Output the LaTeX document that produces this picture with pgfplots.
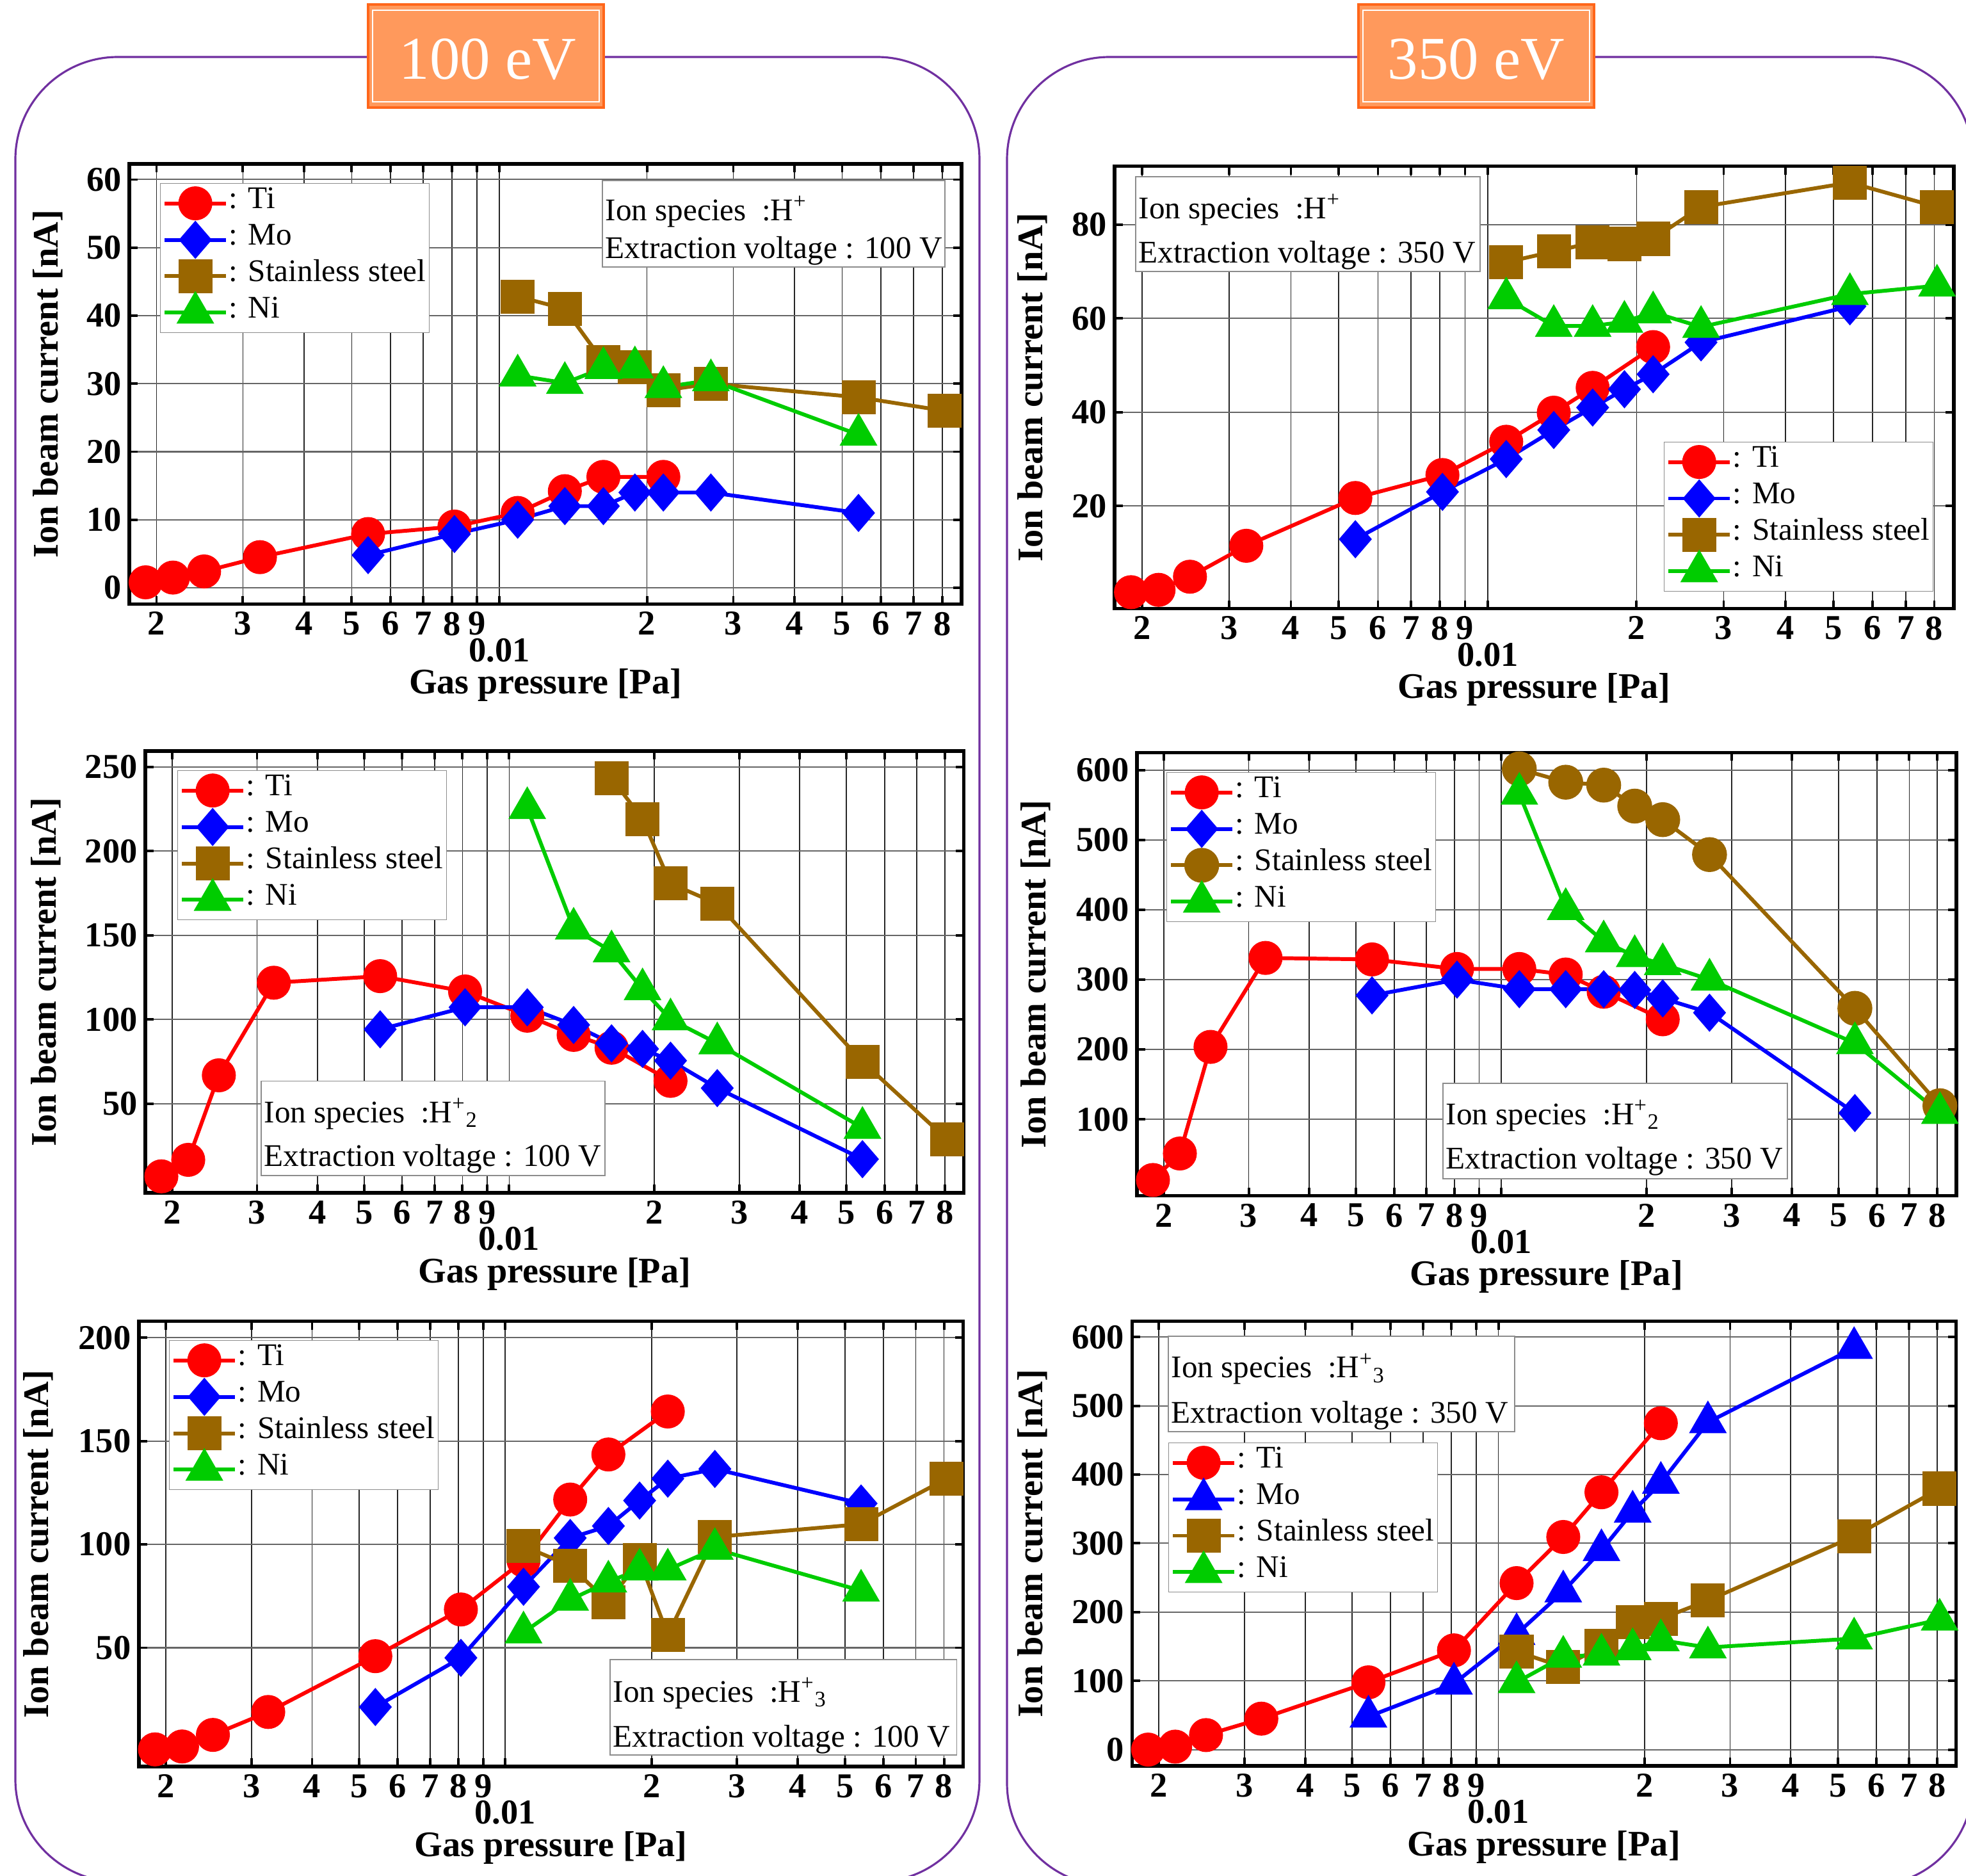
\documentclass[border=0pt]{standalone}
\usepackage{pgfplots}
\pgfplotsset{compat=1.18}
\usepackage{fontspec}
\setmainfont{Liberation Serif}
\usetikzlibrary{calc}
\definecolor{ssb}{RGB}{153,102,0}
\definecolor{nig}{RGB}{0,204,0}
\definecolor{frm}{RGB}{112,48,160}
\definecolor{orF}{RGB}{255,153,92}
\definecolor{orD}{RGB}{255,102,26}
\pgfplotsset{
  mypanel/.style={
    scale only axis, xmin=0.00176, xmax=0.0876, clip=false,
    xtick={0.002,0.003,0.004,0.005,0.006,0.007,0.008,0.009,0.01,0.02,0.03,0.04,0.05,0.06,0.07,0.08},
    xticklabels={2,3,4,5,6,7,8,9,{},2,3,4,5,6,7,8},
    xmajorgrids, ymajorgrids,
    x grid style={black!85, line width=0.5pt},
    y grid style={black!60, line width=0.6pt},
    tick align=inside, major tick length=0.13cm,
    tick style={black, line width=1.1pt},
    axis line style={line width=1.5pt},
    tick label style={font=\fontsize{15.5}{18}\selectfont\bfseries},
    yticklabel={\pgfmathprintnumber[assume math mode=true]{\tick}},
    xlabel={Gas pressure [Pa]}, ylabel={Ion beam current [nA]},
    xlabel style={at={(axis description cs:0.5,0)}, anchor=center, yshift=-1.265cm, font=\fontsize{16}{19}\selectfont\bfseries},
    ylabel style={anchor=center, font=\fontsize{16}{19}\selectfont\bfseries},
    legend cell align=left,
    legend style={anchor=north west, draw=black!45, fill=white, inner xsep=1pt, inner ysep=0.7pt,
      font=\fontsize{14}{16}\selectfont, row sep=0pt,
      nodes={inner xsep=0.5pt, inner ysep=3.2pt, text height=0.72em, text depth=0.26em}},
  },
  lgimg/.style={legend image code/.code={\draw[mark repeat=2,mark phase=2,##1] plot coordinates {(0cm,0cm) (0.48cm,0cm) (0.96cm,0cm)};}},
}
\tikzset{
  pTi/.style={red, line width=1.7pt, mark=*, mark size=6.7pt, mark options={solid}},
  pMo/.style={blue, line width=1.7pt, mark=diamond*, mark size=7.2pt, mark options={solid, xscale=1.15}},
  pMoT/.style={blue, line width=1.7pt, mark=triangle*, mark size=8pt, mark options={solid}},
  pSS/.style={ssb, line width=1.7pt, mark=square*, mark size=6.7pt, mark options={solid}},
  pSSc/.style={ssb, line width=1.7pt, mark=*, mark size=6.9pt, mark options={solid}},
  pNi/.style={nig, line width=1.7pt, mark=triangle*, mark size=8pt, mark options={solid}},
}
\newcommand{\annot}[6]{%
  \draw[black!45, fill=white, line width=0.5pt] (#1,#2) rectangle (#3,#4);
  \node[anchor=base west, inner sep=0pt, font=\fontsize{14}{16}\selectfont] at ($(#1,#5)+(0.04,0)$) {Ion species\ \ :H#6};
}
\newcommand{\ptlabel}{\node[font=\fontsize{15.5}{18}\selectfont\bfseries] at (axis description cs:0.4446,0) [yshift=-0.72cm] {0.01};}
\begin{document}
\begin{tikzpicture}
% frames
\begin{scope}
\clip (0,0) rectangle (30.71,-29.30);
\draw[frm, line width=0.9pt, rounded corners=1.6cm] (0.24,-0.89) rectangle (15.30,-29.39);
\draw[frm, line width=0.9pt, rounded corners=1.6cm] (15.73,-0.89) rectangle (30.82,-29.45);
\end{scope}
% titles
\filldraw[fill=orF, draw=orD, line width=0.9pt] (5.75,-0.07) rectangle (9.43,-1.68);
\draw[white, line width=0.6pt] (5.82,-0.16) rectangle (9.36,-1.59);
\node[anchor=base, text=white, inner sep=0pt, font=\fontsize{27}{30}\selectfont] at (7.62,-1.24) {100 eV};
\filldraw[fill=orF, draw=orD, line width=0.9pt] (21.22,-0.07) rectangle (24.90,-1.68);
\draw[white, line width=0.6pt] (21.29,-0.16) rectangle (24.83,-1.59);
\node[anchor=base, text=white, inner sep=0pt, font=\fontsize{27}{30}\selectfont] at (23.06,-1.24) {350 eV};

% ---------- TL
\begin{scope}[shift={(2.02,-9.435)}]
\begin{axis}[xmode=log, mypanel, lgimg, width=13.00cm, height=6.875cm,
  ymin=-2.4, ymax=62.3, ytick={0,10,...,60},
  ylabel style={at={(axis description cs:-0.0977,0.5)}},
  legend style={at={(axis description cs:0.0369,0.9564)}}]
\addplot[pTi] coordinates {(0.0019,0.8)(0.00216,1.5)(0.0025,2.4)(0.00325,4.5)(0.0054,7.9)(0.0081,9.0)(0.0109,11.0)(0.0136,14.2)(0.0163,16.3)(0.0216,16.3)};
\addplot[pMo] coordinates {(0.0054,4.8)(0.0081,7.9)(0.0109,10.0)(0.0136,12.0)(0.0163,12.0)(0.0189,14.0)(0.0216,14.0)(0.027,14.0)(0.054,11.0)};
\addplot[pSS] coordinates {(0.0109,42.8)(0.0136,41.0)(0.0163,33.2)(0.0189,32.4)(0.0216,29.0)(0.027,30.0)(0.054,28.0)(0.081,26.0)};
\addplot[pNi] coordinates {(0.0109,31.2)(0.0136,30.1)(0.0163,32.3)(0.0189,32.4)(0.0216,29.5)(0.027,30.5)(0.054,22.5)};
\legend{: Ti, : Mo, : Stainless steel, : Ni}
\ptlabel
\end{axis}
\end{scope}

% ---------- TR
\begin{scope}[shift={(17.41,-9.505)}]
\begin{axis}[xmode=log, mypanel, lgimg, width=13.11cm, height=6.91cm,
  ymin=-1.9, ymax=92.5, ytick={20,40,60,80},
  ylabel style={at={(axis description cs:-0.0976,0.5)}},
  legend style={at={(axis description cs:0.6545,0.3771)}}]
\addplot[pTi] coordinates {(0.0019,1.6)(0.00216,2.1)(0.0025,4.9)(0.00325,11.5)(0.0054,21.7)(0.0081,26.6)(0.0109,33.7)(0.0136,39.9)(0.0163,45.2)(0.0216,53.9)};
\addplot[pMo] coordinates {(0.0054,12.9)(0.0081,23.0)(0.0109,30.0)(0.0136,36.2)(0.0163,41.0)(0.0189,44.9)(0.0216,48.1)(0.027,54.9)(0.054,62.6)};
\addplot[pSS] coordinates {(0.0109,72.0)(0.0136,74.3)(0.0163,76.2)(0.0189,75.9)(0.0216,77.0)(0.027,83.8)(0.054,89.0)(0.081,83.8)};
\addplot[pNi] coordinates {(0.0109,64.3)(0.0136,58.4)(0.0163,58.4)(0.0189,59.3)(0.0216,61.3)(0.027,58.2)(0.054,65.2)(0.081,67.0)};
\legend{: Ti, : Mo, : Stainless steel, : Ni}
\ptlabel
\end{axis}
\end{scope}

% ---------- ML
\begin{scope}[shift={(2.27,-18.63)}]
\begin{axis}[xmode=log, mypanel, lgimg, width=12.785cm, height=6.90cm,
  ymin=-3, ymax=259.4, ytick={50,100,...,250},
  ylabel style={at={(axis description cs:-0.1212,0.5)}},
  legend style={at={(axis description cs:0.0391,0.9565)}}]
\addplot[pTi] coordinates {(0.0019,6.8)(0.00216,16.6)(0.0025,66.8)(0.00325,121.8)(0.0054,125.7)(0.0081,116.6)(0.0109,102.2)(0.0136,90.8)(0.0163,83.2)(0.0216,63.5)};
\addplot[pMo] coordinates {(0.0054,94.1)(0.0081,107.2)(0.0109,107.2)(0.0136,96.7)(0.0163,85.8)(0.0189,82.5)(0.0216,75.5)(0.027,59.2)(0.054,17.0)};
\addplot[pSS] coordinates {(0.0163,243.4)(0.0189,218.9)(0.0216,180.7)(0.027,168.7)(0.054,74.9)(0.081,28.6)};
\addplot[pNi] coordinates {(0.0109,225.5)(0.0136,153.9)(0.0163,140.4)(0.0189,117.9)(0.0216,100)(0.027,85.8)(0.054,35.6)};
\legend{: Ti, : Mo, : Stainless steel, : Ni}
\ptlabel
\end{axis}
\end{scope}

% ---------- MR
\begin{scope}[shift={(17.759,-18.676)}]
\begin{axis}[xmode=log, mypanel, lgimg, width=12.80cm, height=6.923cm,
  ymin=-9.4, ymax=625, ytick={100,200,...,600},
  ylabel style={at={(axis description cs:-0.1234,0.5)}},
  legend style={at={(axis description cs:0.036,0.9557)}}]
\addplot[pTi] coordinates {(0.0019,13.2)(0.00216,51.1)(0.0025,203.7)(0.00325,331)(0.0054,328.9)(0.0081,315.2)(0.0109,315.2)(0.0136,307.3)(0.0163,282.6)(0.0216,243.2)};
\addplot[pMo] coordinates {(0.0054,277.4)(0.0081,300)(0.0109,286.3)(0.0136,286.3)(0.0163,286.3)(0.0189,285.2)(0.0216,273.1)(0.027,252.6)(0.054,109)};
\addplot[pSSc] coordinates {(0.0109,601.5)(0.0136,582.5)(0.0163,578.3)(0.0189,548.3)(0.0216,528.9)(0.027,478.9)(0.054,258.9)(0.081,119.5)};
\addplot[pNi] coordinates {(0.0109,566)(0.0136,401)(0.0163,354.7)(0.0189,333.6)(0.0216,322.1)(0.027,300)(0.054,209)(0.081,109)};
\legend{: Ti, : Mo, : Stainless steel, : Ni}
\ptlabel
\end{axis}
\end{scope}

% ---------- BL
\begin{scope}[shift={(2.169,-27.59)}]
\begin{axis}[xmode=log, mypanel, lgimg, width=12.876cm, height=6.952cm,
  ymin=-7.5, ymax=207.9, ytick={50,100,150,200},
  ylabel style={at={(axis description cs:-0.1219,0.5)}},
  legend style={at={(axis description cs:0.0366,0.958)}}]
\addplot[pTi] coordinates {(0.0019,0.8)(0.00216,2.2)(0.0025,7.8)(0.00325,18.9)(0.0054,45.9)(0.0081,68.5)(0.0109,92.2)(0.0136,121.7)(0.0163,143.5)(0.0216,164.3)};
\addplot[pMo] coordinates {(0.0054,21.3)(0.0081,45.1)(0.0109,79.5)(0.0136,103.1)(0.0163,108.9)(0.0189,121.2)(0.0216,131.8)(0.027,136.5)(0.054,119.8)};
\addplot[pSS] coordinates {(0.0109,99.2)(0.0136,89.6)(0.0163,72)(0.0189,92.5)(0.0216,56.1)(0.027,103.6)(0.054,109.8)(0.081,131.8)};
\addplot[pNi] coordinates {(0.0109,57.4)(0.0136,73.2)(0.0163,82)(0.0189,87.8)(0.0216,87.8)(0.027,97.8)(0.054,77.6)};
\legend{: Ti, : Mo, : Stainless steel, : Ni}
\ptlabel
\end{axis}
\end{scope}

% ---------- BR
\begin{scope}[shift={(17.682,-27.58)}]
\begin{axis}[xmode=log, mypanel, lgimg, width=12.874cm, height=6.942cm,
  ymin=-23.7, ymax=622.7, ytick={0,100,...,600},
  ylabel style={at={(axis description cs:-0.1204,0.5)}},
  legend style={at={(axis description cs:0.0441,0.7275)}}]
\addplot[pTi] coordinates {(0.0019,0)(0.00216,4.3)(0.0025,21.1)(0.00325,45)(0.0054,97.8)(0.0081,144.3)(0.0109,242.1)(0.0136,309.2)(0.0163,374.2)(0.0216,474.6)};
\addplot[pMoT] coordinates {(0.0054,48)(0.0081,96)(0.0109,168)(0.0136,230)(0.0163,290)(0.0189,346)(0.0216,388)(0.027,476)(0.054,584)};
\addplot[pSS] coordinates {(0.0109,142.7)(0.0136,120)(0.0163,150.6)(0.0189,185)(0.0216,190.3)(0.027,216.7)(0.054,310.2)(0.081,379.5)};
\addplot[pNi] coordinates {(0.0109,98)(0.0136,135)(0.0163,138)(0.0189,146)(0.0216,159)(0.027,148.5)(0.054,161.5)(0.081,189)};
\legend{: Ti, : Mo, : Stainless steel, : Ni}
\ptlabel
\end{axis}
\end{scope}

% annotation boxes
\annot{9.41}{-2.82}{14.76}{-4.17}{-3.44}{\textsuperscript{+}}
\node[anchor=base west, inner sep=0pt, font=\fontsize{14}{16}\selectfont] at (9.45,-4.03) {Extraction voltage : 100 V};
\annot{17.74}{-2.76}{23.12}{-4.24}{-3.41}{\textsuperscript{+}}
\node[anchor=base west, inner sep=0pt, font=\fontsize{14}{16}\selectfont] at (17.78,-4.10) {Extraction voltage : 350 V};
\annot{4.08}{-16.885}{9.45}{-18.36}{-17.53}{\textsuperscript{+}\textsubscript{2}}
\node[anchor=base west, inner sep=0pt, font=\fontsize{14}{16}\selectfont] at (4.12,-18.21) {Extraction voltage : 100 V};
\annot{22.54}{-16.92}{27.92}{-18.41}{-17.56}{\textsuperscript{+}\textsubscript{2}}
\node[anchor=base west, inner sep=0pt, font=\fontsize{14}{16}\selectfont] at (22.58,-18.25) {Extraction voltage : 350 V};
\annot{9.53}{-25.92}{14.945}{-27.41}{-26.58}{\textsuperscript{+}\textsubscript{3}}
\node[anchor=base west, inner sep=0pt, font=\fontsize{14}{16}\selectfont] at (9.57,-27.28) {Extraction voltage : 100 V};
\annot{18.25}{-20.87}{23.66}{-22.36}{-21.515}{\textsuperscript{+}\textsubscript{3}}
\node[anchor=base west, inner sep=0pt, font=\fontsize{14}{16}\selectfont] at (18.29,-22.22) {Extraction voltage : 350 V};
\pgfresetboundingbox
\path[use as bounding box] (0,0) rectangle (30.71,-29.30);
\end{tikzpicture}
\end{document}
